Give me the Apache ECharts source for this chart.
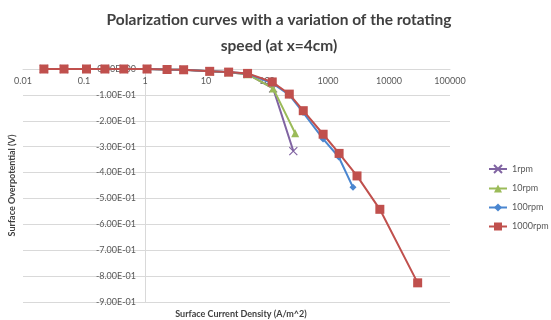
<!DOCTYPE html>
<html>
<head>
<meta charset="utf-8">
<script src="https://cdn.jsdelivr.net/npm/echarts@6/dist/echarts.min.js"></script>
<style>html,body{margin:0;padding:0;background:#fff}#c{width:551px;height:320px}</style>
</head>
<body>
<div id="c"></div>
<script>
const seriesNames = ['1rpm', '10rpm', '100rpm', '1000rpm'];
const rpm1X = [0.022, 0.047, 0.11, 0.22, 0.45, 1.08, 2.3, 4.3, 11.5, 23.5, 48, 126, 270];
const rpm1Y = [0, 0, 0, 0, 0, 0, -0.002, -0.003, -0.009, -0.013, -0.02, -0.075, -0.317];
const rpm10X = [0.022, 0.047, 0.11, 0.22, 0.45, 1.08, 2.3, 4.3, 11.5, 23.5, 48, 126, 290];
const rpm10Y = [0, 0, 0, 0, 0, 0, -0.002, -0.003, -0.009, -0.013, -0.02, -0.075, -0.248];
const rpm100X = [0.022, 0.047, 0.11, 0.22, 0.45, 1.08, 2.3, 4.3, 11.5, 23.5, 48, 122, 232, 390, 830, 1500, 2570];
const rpm100Y = [0, 0, 0, 0, 0, 0, -0.002, -0.003, -0.009, -0.012, -0.018, -0.055, -0.1, -0.168, -0.27, -0.34, -0.457];
const rpm1000X = [0.022, 0.047, 0.11, 0.22, 0.45, 1.08, 2.3, 4.3, 11.5, 23.5, 48, 122, 232, 393, 832, 1520, 2990, 7080, 29500];
const rpm1000Y = [0, 0, 0, 0, 0, 0, -0.002, -0.003, -0.009, -0.012, -0.017, -0.05, -0.097, -0.161, -0.252, -0.326, -0.413, -0.542, -0.826];
const xTickLabels = ['0.01', '0.1', '1', '10', '100', '1000', '10000', '100000'];
const yTickLabels = ['0.00E+00', '-1.00E-01', '-2.00E-01', '-3.00E-01', '-4.00E-01', '-5.00E-01', '-6.00E-01', '-7.00E-01', '-8.00E-01', '-9.00E-01'];

const colors = ['#8064A2', '#9BBB59', '#4A86D0', '#C0504D'];
const symbols = ['path://M0,0L10,10M10,0L0,10', 'triangle', 'diamond', 'rect'];
const sizes = [8, 8, 7, 9];
const xs = [rpm1X, rpm10X, rpm100X, rpm1000X];
const ys = [rpm1Y, rpm10Y, rpm100Y, rpm1000Y];

function pairs(x, y) { return x.map((v, i) => [v, y[i]]); }

const font = 'Lato, "Open Sans", sans-serif';
const chart = echarts.init(document.getElementById('c'), null, {renderer: 'canvas'});
chart.setOption({
  animation: false,
  textStyle: {fontFamily: font},
  title: [
    {text: 'Polarization curves with a variation of the rotating\nspeed (at x=4cm)', left: 274, textAlign: 'center', top: 2,
     textStyle: {fontSize: 15.5, fontWeight: 'bold', color: '#404040', lineHeight: 26, fontFamily: font}},
    {text: 'Surface Current Density (A/m^2)', left: 236, textAlign: 'center', top: 305,
     textStyle: {fontSize: 9, fontWeight: 'bold', color: '#404040', fontFamily: font}}
  ],
  legend: {
    orient: 'vertical', left: 483, top: 159, itemGap: 10, itemWidth: 18, itemHeight: 10,
    data: seriesNames,
    textStyle: {fontSize: 9, color: '#595959', fontFamily: font}
  },
  grid: {left: 21, right: 101, top: 69, bottom: 18, containLabel: false},
  xAxis: {
    type: 'log', logBase: 10, min: 0.01, max: 100000, position: 'top',
    axisLine: {show: true, lineStyle: {color: '#D9D9D9', width: 1}},
    axisTick: {show: false},
    splitLine: {show: false},
    axisLabel: {inside: true, margin: 8, fontSize: 9, color: '#595959', fontFamily: font,
      formatter: v => xTickLabels[Math.round(Math.log10(v)) + 2]}
  },
  yAxis: {
    type: 'value', min: -0.9, max: 0, interval: 0.1, position: 'left', offset: -122,
    axisLine: {show: true, lineStyle: {color: '#D9D9D9', width: 1}},
    axisTick: {show: false},
    splitLine: {show: true, lineStyle: {color: '#D9D9D9', width: 1}},
    axisLabel: {margin: 9, fontSize: 9, color: '#595959', fontFamily: font,
      formatter: v => yTickLabels[Math.round(-v * 10)]},
    name: 'Surface Overpotential (V)', nameLocation: 'middle', nameGap: 128, nameRotate: 90,
    nameTextStyle: {fontSize: 9, fontWeight: 'bold', color: '#404040', fontFamily: font}
  },
  series: seriesNames.map((n, i) => ({
    name: n, type: 'line', data: pairs(xs[i], ys[i]),
    symbol: symbols[i], symbolSize: sizes[i], showSymbol: true,
    lineStyle: {color: colors[i], width: 2},
    itemStyle: {color: colors[i], borderColor: colors[i], borderWidth: i === 0 ? 1.2 : 0},
    z: 2 + i
  }))
});
</script>
</body>
</html>
